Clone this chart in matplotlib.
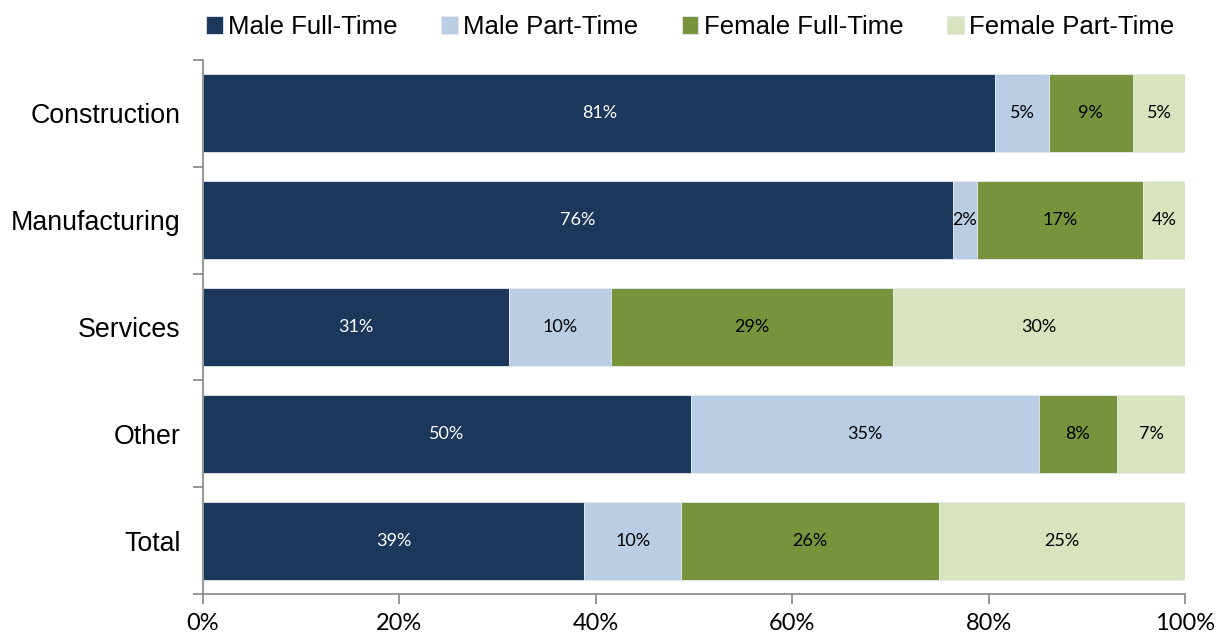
import matplotlib
matplotlib.use("Agg")
import matplotlib.pyplot as plt
import numpy as np

categories = ["Construction", "Manufacturing", "Services", "Other", "Total"]
series_names = ["Male Full-Time", "Male Part-Time", "Female Full-Time", "Female Part-Time"]
male_ft = [80.7, 76.4, 31.2, 49.7, 38.8]
male_pt = [5.4, 2.4, 10.3, 35.4, 9.9]
female_ft = [8.6, 16.9, 28.8, 8.0, 26.2]
female_pt = [5.3, 4.3, 29.7, 6.9, 25.1]
colors = ["#1B375C", "#B9CDE5", "#77933C", "#D7E4BD"]
label_colors = ["white", "black", "black", "black"]
xticks = [0, 20, 40, 60, 80, 100]

series = [male_ft, male_pt, female_ft, female_pt]

fig = plt.figure(figsize=(12.26, 6.37), dpi=100)
ax = fig.add_axes([203/1226, 1-594/637, (1185-203)/1226, (594-60)/637])

y = np.arange(len(categories))
left = np.zeros(len(categories))
handles = []
for vals, col, lc, name in zip(series, colors, label_colors, series_names):
    vals = np.array(vals)
    b = ax.barh(y, vals, left=left, height=0.73, color=col, edgecolor="#E6E9EE",
                linewidth=0.6, label=name)
    handles.append(b)
    for yi, l, v in zip(y, left, vals):
        ax.text(l + v/2, yi, f"{int(v + 0.5)}%", ha="center", va="center",
                color=lc, fontsize=13, family="Lato")
    left = left + vals

ax.set_xlim(0, 100)
ax.set_ylim(len(categories) - 0.5, -0.5)
ax.set_yticks(y)
ax.set_yticklabels(categories, family="Liberation Sans", fontsize=19.3)
ax.tick_params(axis="y", which="major", length=0, pad=16)
ax.set_yticks(np.arange(-0.5, len(categories)), minor=True)
ax.tick_params(axis="y", which="minor", length=7, color="#868686", width=1.2)
ax.set_xticks(xticks)
ax.set_xticklabels([f"{t}%" for t in xticks], family="Lato", fontsize=17)
ax.tick_params(axis="x", length=7, color="#868686", width=1.2, pad=7)
for s in ["top", "right"]:
    ax.spines[s].set_visible(False)
for s in ["left", "bottom"]:
    ax.spines[s].set_color("#868686")
    ax.spines[s].set_linewidth(1.2)

leg = fig.legend(handles, series_names, loc="center", bbox_to_anchor=(690/1226, 1-27/637),
                 ncol=4, frameon=False, prop={"family": "Liberation Sans", "size": 18.5},
                 handlelength=0.65, handleheight=0.65, handletextpad=0.2, columnspacing=1.7)

fig.savefig("out.png", dpi=100)
